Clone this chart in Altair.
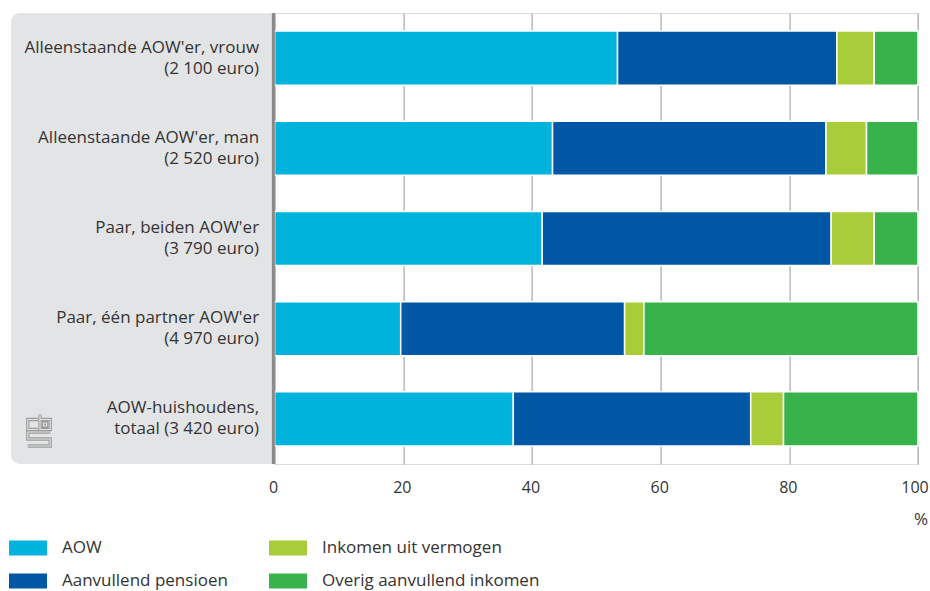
import base64
import altair as alt
import pandas as pd

# Household groups (label lines separated by "|") and income shares in %
categories = [
    "Alleenstaande AOW'er, vrouw|(2 100 euro)",
    "Alleenstaande AOW'er, man|(2 520 euro)",
    "Paar, beiden AOW'er|(3 790 euro)",
    "Paar, één partner AOW'er|(4 970 euro)",
    "AOW-huishoudens,|totaal (3 420 euro)",
]
aow = [53.3, 43.2, 41.6, 19.6, 37.1]
pensioen = [34.1, 42.5, 44.9, 34.8, 36.9]
vermogen = [5.8, 6.3, 6.7, 3.0, 5.1]
overig = [6.8, 8.0, 6.8, 42.6, 20.9]

series = ["AOW", "Aanvullend pensioen", "Inkomen uit vermogen", "Overig aanvullend inkomen"]
series_colors = ["#00b3dd", "#0057a6", "#a8cd39", "#38b24b"]

rows = []
for i, cat in enumerate(categories):
    for k, (name, vals) in enumerate(zip(series, [aow, pensioen, vermogen, overig])):
        rows.append({"groep": cat, "bron": name, "aandeel": vals[i], "volgorde": k})
df = pd.DataFrame(rows)

FONT = "Open Sans"
TEXT = "#333333"
PANEL = "#e3e4e6"
W, H = 643.4, 451
LEFT, TOP = 274.6, 13

bars = (
    alt.Chart(df)
    .mark_bar(stroke="white", strokeWidth=1.5)
    .encode(
        x=alt.X(
            "aandeel:Q",
            stack="zero",
            scale=alt.Scale(domain=[0, 100], nice=False),
            axis=alt.Axis(
                values=[0, 20, 40, 60, 80, 100],
                grid=True,
                gridColor="#a8a8a8",
                gridWidth=1.2,
                domain=False,
                ticks=False,
                labelFlush=False,
                labelPadding=15,
                labelFontSize=16,
                labelOffset=alt.ExprRef(expr="datum.value == 100 ? -3.5 : -1.5"),
                labelColor=TEXT,
                labelFont=FONT,
                title="%",
                titleFont=FONT,
                titleFontSize=17,
                titleFontWeight="normal",
                titleColor=TEXT,
                titleAnchor="end",
                titleAlign="right",
                titleBaseline="middle",
                titleX=W + 9.5,
                titleY=55,
            ),
        ),
        y=alt.Y(
            "groep:N",
            sort=categories,
            scale=alt.Scale(paddingInner=0.4, paddingOuter=0.2),
            axis=alt.Axis(
                title=None,
                domain=False,
                ticks=False,
                grid=False,
                zindex=2,
                labelExpr="split(datum.label, '|')",
                labelPadding=16,
                labelOffset=-10.5,
                labelFontSize=17,
                labelLineHeight=21,
                labelColor=TEXT,
                labelFont=FONT,
                labelLimit=0,
            ),
        ),
        color=alt.Color(
            "bron:N",
            scale=alt.Scale(domain=series, range=series_colors),
            legend=alt.Legend(
                title=None,
                orient="none",
                legendX=-265.6,
                legendY=516,
                columns=2,
                columnPadding=41,
                rowPadding=6,
                symbolType="M-1,-0.4H1V0.4H-1Z",
                symbolSize=1444,
                symbolStrokeWidth=0,
                symbolOpacity=1,
                labelOffset=15,
                labelFontSize=17,
                labelFont=FONT,
                labelColor=TEXT,
                labelLimit=0,
                padding=0,
            ),
        ),
        order=alt.Order("volgorde:Q"),
    )
)

one = alt.Data(values=[{}])

# grey label panel, rounded on the left
panel = alt.Chart(one).mark_rect(
    color=PANEL, cornerRadiusTopLeft=9, cornerRadiusBottomLeft=9
).encode(
    x=alt.value(-263.6), x2=alt.value(-1), y=alt.value(0), y2=alt.value(H)
)

# vertical base line at zero
baseline = alt.Chart(one).mark_rule(color="#8a8a8a", strokeWidth=3).encode(
    x=alt.value(-1.2), y=alt.value(0), y2=alt.value(H)
)

# small cbs logo in the panel corner, drawn as a double outline
logo_path = (
    "M12,5.5 H1.8 V15.5 H12 "
    "M14,0.5 V15.5 H24.2 V5.5 H14 M17.6,9 H20.6 V12 H17.6 Z "
    "M24.2,18 H1.8 V25 H24.2 V32 H1.8"
)
svg = (
    '<svg xmlns="http://www.w3.org/2000/svg" width="26" height="34" viewBox="0 0 26 34">'
    f'<path d="{logo_path}" fill="none" stroke="#9a9a9a" stroke-width="3.3"/>'
    f'<path d="{logo_path}" fill="none" stroke="{PANEL}" stroke-width="1.1"/>'
    "</svg>"
)
logo_url = "data:image/svg+xml;base64," + base64.b64encode(svg.encode()).decode()
logo = alt.Chart(alt.Data(values=[{"u": logo_url}])).mark_image(
    width=26, height=34, align="left", baseline="top"
).encode(url="u:N", x=alt.value(26 - LEFT), y=alt.value(414 - TOP))

chart = (
    alt.layer(panel, logo, bars, baseline)
    .properties(
        width=W,
        height=H,
        autosize=alt.AutoSizeParams(type="none"),
        padding={"left": LEFT, "top": TOP, "right": 930 - LEFT - W, "bottom": 591 - TOP - H},
    )
    .configure_view(stroke=None)
    .configure(font=FONT)
)

chart.save("out.html", embed_options={"renderer": "svg", "actions": False})
